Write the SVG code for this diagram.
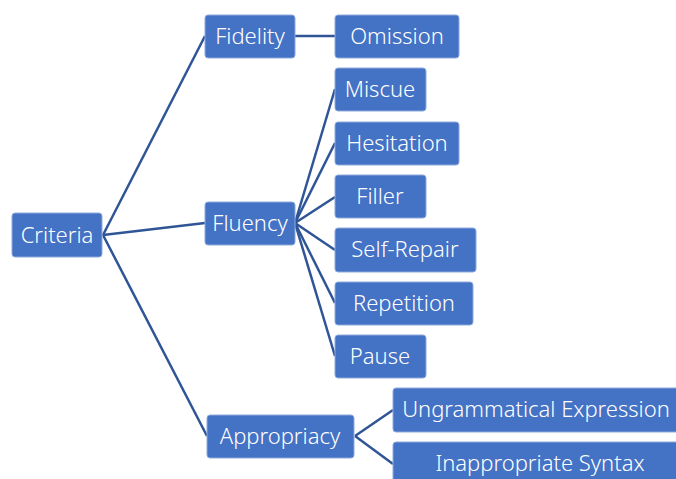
<svg xmlns="http://www.w3.org/2000/svg" width="676" height="479" viewBox="0 0 676 479">
<style>
.box{fill:#4472C4;stroke:#8FAADC;stroke-width:1}
.t{font-family:"Noto Sans","Liberation Sans",sans-serif;font-size:22px;font-weight:300;fill:#ffffff;text-anchor:middle;dominant-baseline:central}
.c{stroke:#2F5597;stroke-width:2.5;fill:none}
</style>
<rect width="676" height="479" fill="#ffffff"/>
<g id="connectors">
<line class="c" x1="103" y1="235" x2="205" y2="36"/>
<line class="c" x1="103" y1="235" x2="205" y2="223"/>
<line class="c" x1="103" y1="235" x2="207" y2="436"/>
<line class="c" x1="295" y1="36" x2="335" y2="36"/>
<line class="c" x1="295" y1="223" x2="335" y2="89"/>
<line class="c" x1="295" y1="223" x2="335" y2="143"/>
<line class="c" x1="295" y1="223" x2="335" y2="197"/>
<line class="c" x1="295" y1="223" x2="335" y2="250"/>
<line class="c" x1="295" y1="223" x2="335" y2="303"/>
<line class="c" x1="295" y1="223" x2="335" y2="356"/>
<line class="c" x1="355" y1="436" x2="393" y2="410"/>
<line class="c" x1="355" y1="436" x2="393" y2="464"/>
</g>
<g id="criteria"><rect class="box" x="12" y="213" width="90" height="44" rx="3"/><text class="t" x="57" y="234">Criteria</text></g>
<g id="fidelity"><rect class="box" x="205" y="15" width="90" height="43" rx="3"/><text class="t" x="250" y="35">Fidelity</text></g>
<g id="fluency"><rect class="box" x="205" y="202" width="90" height="43" rx="3"/><text class="t" x="250" y="222">Fluency</text></g>
<g id="appropriacy"><rect class="box" x="207" y="415" width="147" height="43" rx="3"/><text class="t" x="280" y="435">Appropriacy</text></g>
<g id="omission"><rect class="box" x="335" y="15" width="124" height="43" rx="3"/><text class="t" x="397" y="35">Omission</text></g>
<g id="miscue"><rect class="box" x="335" y="68" width="91" height="43" rx="3"/><text class="t" x="380" y="88">Miscue</text></g>
<g id="hesitation"><rect class="box" x="335" y="122" width="124" height="43" rx="3"/><text class="t" x="397" y="142">Hesitation</text></g>
<g id="filler"><rect class="box" x="335" y="175" width="91" height="43" rx="3"/><text class="t" x="380" y="195">Filler</text></g>
<g id="self-repair"><rect class="box" x="335" y="228" width="141" height="44" rx="3"/><text class="t" x="405" y="248">Self-Repair</text></g>
<g id="repetition"><rect class="box" x="335" y="282" width="138" height="43" rx="3"/><text class="t" x="404" y="302">Repetition</text></g>
<g id="pause"><rect class="box" x="335" y="335" width="91" height="43" rx="3"/><text class="t" x="380" y="355">Pause</text></g>
<g id="ungrammatical"><rect class="box" x="393" y="388" width="294" height="44" rx="3"/><text class="t" x="536" y="408">Ungrammatical Expression</text></g>
<g id="inappropriate"><rect class="box" x="393" y="442" width="294" height="44" rx="3"/><text class="t" x="540" y="462">Inappropriate Syntax</text></g>
</svg>
